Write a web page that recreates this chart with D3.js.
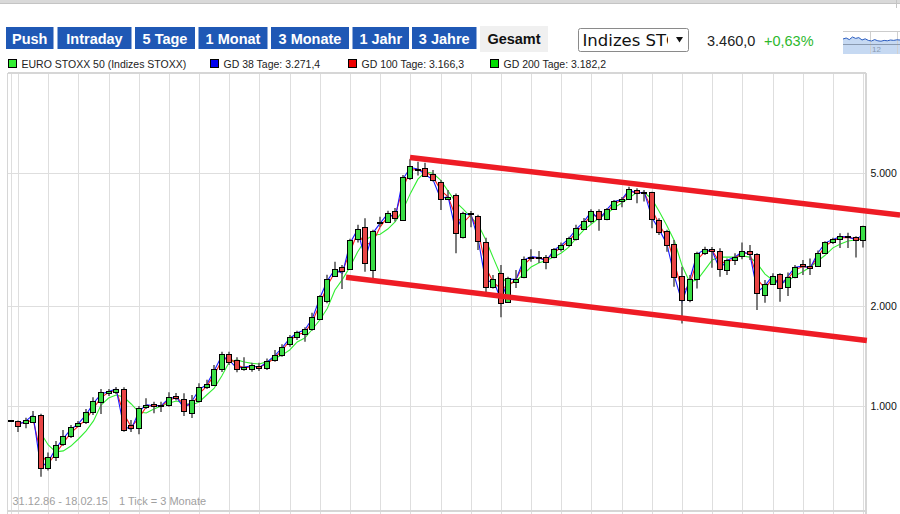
<!DOCTYPE html>
<html><head><meta charset="utf-8">
<script src="https://cdn.jsdelivr.net/npm/d3@7/dist/d3.min.js"></script>
<style>
body{margin:0;background:#fff;}
svg{display:block;font-family:"Liberation Sans",Arial,sans-serif;}
</style>
</head><body>
<svg id="c" width="900" height="514"></svg>
<script>
// ---------- DATA (quarterly candles, EURO STOXX 50, 31.12.86 - 18.02.15) ----------
const quarters = ["31.12.86"].concat(d3.range(1987, 2016).flatMap(y => [1,2,3,4].map(q => "Q" + q + " " + y))).slice(0, 114);

const opens = [905,900,889,893,940,653,701,770,811,869,
 893,957,1026,1096,1104,1122,877,857,991,1012,
 1010,1007,1068,1047,955,1035,1138,1156,1289,1436,
 1375,1291,1289,1318,1300,1372,1420,1532,1615,1648,
 1700,1821,2067,2457,2610,2574,3180,3456,2562,3550,
 3560,3860,3624,4840,5140,5170,4975,4697,4185,4290,
 3210,3805,3730,3113,2272,2516,2056,2362,2435,2775,
 2805,2800,2800,2965,3050,3175,3410,3585,3860,3650,
 3895,4128,4175,4455,4390,4380,3625,3355,3067,2457,
 2081,2400,2875,2965,2930,2560,2740,2815,2915,2855,
 2150,2325,2485,2272,2445,2670,2632,2632,2887,3115,
 3165,3230,3220,3150];

const highs = [905,905,922,966,948,725,785,847,877,902,
 979,1062,1125,1125,1140,1138,908,1000,1055,1030,
 1030,1099,1095,1092,1079,1170,1199,1328,1456,1456,
 1400,1400,1349,1349,1390,1473,1532,1634,1683,1723,
 1906,2155,2480,2713,2650,3180,3500,3660,3380,3700,
 3860,3930,4940,5510,5410,5380,5110,4772,4450,4350,
 3830,3850,3750,3200,2475,2650,2445,2560,2810,2955,
 2920,2842,2980,3095,3225,3500,3670,3895,3895,3930,
 4155,4245,4555,4510,4455,4400,3665,3380,3150,2620,
 2475,2905,3010,3000,2975,2775,2875,3095,3045,2875,
 2390,2505,2505,2515,2650,2745,2775,2930,3125,3200,
 3300,3315,3235,3475];

const lows = [905,835,857,890,613,640,684,758,801,865,
 883,940,946,1071,1087,837,835,822,979,951,
 960,995,1040,933,920,1026,1124,1150,1265,1328,
 1263,1277,1268,1274,1283,1358,1406,1507,1578,1560,
 1683,1812,2035,2448,2246,2563,3100,2530,2418,3450,
 3550,3580,3600,4770,4920,4890,4725,3875,4160,2875,
 3185,3440,2940,2180,2255,1846,2043,2260,2420,2713,
 2690,2575,2780,2910,3010,3140,3380,3535,3360,3610,
 3880,3950,4155,4065,4110,3420,3260,2905,2282,1770,
 2050,2255,2842,2600,2445,2475,2650,2760,2745,1942,
 2043,2310,2056,2140,2420,2475,2475,2620,2875,3065,
 2980,2980,2790,2990];

const closes = [905,868,906,933,653,703,762,813,863,887,
 957,1033,1099,1112,1127,845,857,984,1005,1000,
 998,1062,1060,968,1042,1138,1164,1289,1430,1358,
 1289,1312,1328,1300,1365,1422,1507,1608,1665,1700,
 1846,2140,2402,2574,2544,3152,3395,2683,3362,3575,
 3790,3662,4884,5260,5160,4910,4772,4185,4255,3300,
 3790,3780,3130,2282,2400,2034,2418,2400,2758,2800,
 2785,2713,2955,3050,3190,3419,3595,3850,3645,3895,
 4128,4185,4475,4375,4380,3637,3338,3045,2445,2081,
 2400,2875,2955,2930,2574,2745,2800,2915,2855,2180,
 2325,2462,2257,2445,2620,2632,2605,2887,3102,3165,
 3230,3226,3160,3460];

const gd38 = [null,880,900,940,655,680,745,800,850,885,
 940,1020,1085,1105,1125,870,850,960,1010,1000,
 1005,1055,1062,985,1030,1120,1160,1275,1415,1370,
 1300,1310,1320,1305,1355,1415,1495,1595,1660,1690,
 1830,2110,2380,2570,2500,3080,3390,2750,3300,3540,
 3780,3680,4800,5200,5150,4950,4780,4200,4250,3350,
 3750,3780,3150,2350,2390,2080,2400,2400,2740,2810,
 2790,2720,2940,3040,3180,3400,3580,3840,3620,3880,
 4110,4170,4460,4350,4390,3680,3380,3060,2450,2050,
 2390,2860,2950,2920,2580,2740,2800,2910,2850,2200,
 2300,2460,2280,2450,2610,2630,2600,2880,3090,3160,
 3230,3220,3160,3271];

const gd100 = [null,890,890,910,720,670,720,775,830,870,
 910,985,1060,1100,1115,950,865,920,995,1005,
 1000,1040,1060,1015,1000,1090,1145,1240,1370,1400,
 1330,1300,1315,1310,1340,1395,1470,1570,1640,1660,
 1790,2020,2300,2520,2540,2900,3320,3050,3100,3450,
 3700,3750,4500,5100,5150,5050,4880,4450,4250,3700,
 3550,3750,3350,2600,2350,2250,2300,2400,2650,2780,
 2790,2750,2880,3000,3130,3330,3520,3750,3700,3800,
 4050,4150,4400,4380,4370,3900,3500,3200,2700,2200,
 2300,2750,2900,2930,2700,2700,2780,2880,2870,2400,
 2250,2420,2350,2400,2570,2620,2610,2800,3030,3130,
 3200,3210,3180,3166];

const gd200 = [null,null,null,null,830,764,728,733,758,796,
 841,902,1007,1057,1079,1064,1014,959,953,979,
 1000,1021,1035,1021,1007,1028,1079,1132,1230,1355,
 1375,1356,1343,1337,1359,1390,1422,1473,1557,1600,
 1700,1812,1965,2230,2400,2620,2900,3150,3250,3280,
 3400,3580,3875,4350,4800,5050,5000,4772,4420,4100,
 3900,3690,3500,3150,2780,2460,2310,2370,2490,2615,
 2690,2735,2800,2880,3000,3195,3380,3520,3670,3770,
 3935,4070,4220,4375,4375,4185,3830,3480,3130,2640,
 2360,2390,2560,2745,2800,2800,2800,2820,2800,2670,
 2490,2390,2340,2370,2460,2530,2615,2725,2840,2985,
 3065,3130,3150,3182];

// trend channel (quarter index, value)
const trendUpper = [[52.95, 5576], [117.9, 3747]];
const trendLower = [[44.47, 2435], [113.5, 1573]];

const yTicks = [1000, 2000, 5000];
const yTickLabels = ["1.000", "2.000", "5.000"];
const buttons = ["Push", "Intraday", "5 Tage", "1 Monat", "3 Monate", "1 Jahr", "3 Jahre"];
const activeButton = "Gesamt";
const legendItems = [
  {label: "EURO STOXX 50 (Indizes STOXX)", color: "#33ee33"},
  {label: "GD 38 Tage: 3.271,4", color: "#0000ee"},
  {label: "GD 100 Tage: 3.166,3", color: "#ee0000"},
  {label: "GD 200 Tage: 3.182,2", color: "#00dd00"}
];
const lastPrice = "3.460,0", lastChange = "+0,63%";
const sparkValues = [3395,3400,3392,3405,3398,3402,3390,3396,3388,3385,3392,3386,3384,3388,3386,3390,3388,3391,3390];

// ---------- LAYOUT ----------
const svg = d3.select("#c");
const L = 7.5, R = 866, T = 73, B = 511;
const x = d3.scaleLinear().domain([0, 113]).range([10.5, 863.1]);
const y = d3.scaleLog().domain([1000, 10000]).range([406, 73]);

// top strip
svg.append("rect").attr("x",0).attr("y",0).attr("width",900).attr("height",3).attr("fill","#d9d9d9");
svg.append("line").attr("x1",0).attr("x2",900).attr("y1",3.5).attr("y2",3.5).attr("stroke","#c4c4c4");
svg.append("line").attr("x1",896.5).attr("x2",896.5).attr("y1",0).attr("y2",8).attr("stroke","#c4c4c4");

// buttons
const btnX = [[6,53.5],[57.5,131.5],[135,195],[198.5,267.5],[271,349],[352.5,409],[412,476.5]];
buttons.forEach((b, k) => {
  const [a, e] = btnX[k];
  svg.append("rect").attr("x", a).attr("y", 27).attr("width", e - a).attr("height", 22).attr("fill", "#1f58b5");
  svg.append("text").attr("x", (a + e) / 2).attr("y", 43.5).attr("text-anchor", "middle")
    .attr("fill", "#fff").attr("font-weight", "bold").attr("font-size", "14.5px").text(b);
});
svg.append("rect").attr("x", 480).attr("y", 26).attr("width", 68).attr("height", 26).attr("fill", "#f0f0f0");
svg.append("text").attr("x", 514).attr("y", 43.5).attr("text-anchor", "middle").attr("fill", "#111")
  .attr("font-weight", "bold").attr("font-size", "14.5px").text(activeButton);

// dropdown
svg.append("clipPath").attr("id","dd").append("rect").attr("x",580).attr("y",29).attr("width",88).attr("height",22);
svg.append("rect").attr("x",578.5).attr("y",28.5).attr("width",110).attr("height",23).attr("rx",2)
  .attr("fill","#fff").attr("stroke","#8a8a8a");
svg.append("text").attr("x",582.5).attr("y",46).attr("font-family","'DejaVu Sans',sans-serif").attr("font-size","16.5px")
  .attr("fill","#111").attr("clip-path","url(#dd)").text("Indizes STOXX");
svg.append("path").attr("d","M676,37 L683,37 L679.5,42.5 Z").attr("fill","#111");

// price
svg.append("text").attr("x",707).attr("y",45.5).attr("font-size","14.5px").attr("fill","#222").text(lastPrice);
svg.append("text").attr("x",764).attr("y",45.5).attr("font-size","14.5px").attr("fill","#2db82d").text(lastChange);

// sparkline thumbnail
const sx = d3.scaleLinear().domain([0, sparkValues.length - 1]).range([843, 900]);
const sy = d3.scaleLinear().domain([3370, 3410]).range([44, 36]);
svg.append("rect").attr("x",843).attr("y",31).attr("width",57).attr("height",24).attr("fill","#fff");
svg.append("path").datum(sparkValues)
  .attr("d", d3.area().x((d,i)=>sx(i)).y0(54).y1(d=>sy(d)))
  .attr("fill","#c6d9f2");
[870.5, 897.5].forEach(v => svg.append("line").attr("x1",v).attr("x2",v).attr("y1",31).attr("y2",54).attr("stroke","#d0d0d0"));
svg.append("line").attr("x1",843).attr("x2",900).attr("y1",31.5).attr("y2",31.5).attr("stroke","#cccccc");
svg.append("line").attr("x1",843).attr("x2",900).attr("y1",44.5).attr("y2",44.5).attr("stroke","#8a9ab0");
svg.append("path").datum(sparkValues).attr("d", d3.line().x((d,i)=>sx(i)).y(d=>sy(d)))
  .attr("fill","none").attr("stroke","#2a5cc0").attr("stroke-width",1);
svg.append("text").attr("x",872).attr("y",52).attr("font-size","8px").attr("fill","#8a9ab0").text("12");

// legend
const legX = [8, 210, 348, 490];
legendItems.forEach((it, k) => {
  svg.append("rect").attr("x", legX[k] + 0.5).attr("y", 59.5).attr("width", 8).attr("height", 8)
    .attr("fill", it.color).attr("stroke", "#000");
  svg.append("text").attr("x", legX[k] + 13.5).attr("y", 67.7).attr("font-size", "10.5px").attr("fill", "#222").text(it.label);
});

// grid
const grid = svg.append("g").attr("shape-rendering","crispEdges");
const yearIdx = [0].concat(d3.range(1, 114, 4));
grid.selectAll("line.v").data(yearIdx).join("line")
  .attr("x1", i => Math.round(x(i)) + 0.5).attr("x2", i => Math.round(x(i)) + 0.5)
  .attr("y1", T).attr("y2", 514).attr("stroke", "#dedede").attr("stroke-width", 1.6);
grid.selectAll("line.h").data(yTicks).join("line")
  .attr("x1", L).attr("x2", R).attr("y1", d => Math.round(y(d)) + 0.5).attr("y2", d => Math.round(y(d)) + 0.5)
  .attr("stroke", "#dedede").attr("stroke-width", 1.6);
grid.append("line").attr("x1",L).attr("x2",R).attr("y1",T).attr("y2",T).attr("stroke","#d6d6d6").attr("stroke-width",1.6);
grid.append("line").attr("x1",L).attr("x2",R).attr("y1",B).attr("y2",B).attr("stroke","#d6d6d6").attr("stroke-width",1.6);
grid.append("line").attr("x1",L).attr("x2",L).attr("y1",T).attr("y2",514).attr("stroke","#d6d6d6").attr("stroke-width",1.6);
grid.append("line").attr("x1",R).attr("x2",R).attr("y1",T).attr("y2",514).attr("stroke","#d6d6d6").attr("stroke-width",1.6);

// y labels
svg.selectAll("text.yl").data(yTicks).join("text")
  .attr("x", 870.5).attr("y", d => y(d) + 4).attr("font-size", "10.5px").attr("fill", "#111")
  .text((d, k) => yTickLabels[k]);

// bottom info
svg.append("text").attr("x",12.5).attr("y",505).attr("font-size","11px").attr("fill","#a0a0a0").text("31.12.86 - 18.02.15");
svg.append("text").attr("x",119).attr("y",505).attr("font-size","11px").attr("fill","#a0a0a0").text("1 Tick = 3 Monate");

// moving averages
const idx = d3.range(quarters.length);
const maLine = arr => d3.line().defined(i => arr[i] != null).x(i => x(i)).y(i => y(arr[i]))(idx);
svg.append("path").attr("d", maLine(gd200)).attr("fill","none").attr("stroke","#33ee33").attr("stroke-width",1.1);
svg.append("path").attr("d", maLine(gd100)).attr("fill","none").attr("stroke","#ff1a1a").attr("stroke-width",1.1);
svg.append("path").attr("d", maLine(gd38)).attr("fill","none").attr("stroke","#1a1aff").attr("stroke-width",1.1);

// candles
const cg = svg.append("g");
cg.selectAll("line.w").data(idx).join("line")
  .attr("x1", i => Math.round(x(i))).attr("x2", i => Math.round(x(i)))
  .attr("y1", i => y(highs[i])).attr("y2", i => y(lows[i]))
  .attr("stroke", "#5a5a5a").attr("stroke-width", 1.6);
cg.selectAll("rect.b").data(idx).join("rect")
  .attr("x", i => Math.round(x(i)) - 2.5)
  .attr("y", i => Math.round(y(Math.max(opens[i], closes[i]))) + 0.5)
  .attr("width", 5)
  .attr("height", i => Math.max(1, Math.round(y(Math.min(opens[i], closes[i]))) - Math.round(y(Math.max(opens[i], closes[i])))))
  .attr("fill", i => closes[i] >= opens[i] ? "#3ade46" : "#e84545")
  .attr("stroke", "#000").attr("stroke-width", 1).attr("shape-rendering","crispEdges");

// trend channel
const tl = d3.line().x(d => x(d[0])).y(d => y(d[1]));
[trendUpper, trendLower].forEach(t => svg.append("path").attr("d", tl(t))
  .attr("fill","none").attr("stroke","#ee1c25").attr("stroke-width",5.5));
</script>
</body></html>
